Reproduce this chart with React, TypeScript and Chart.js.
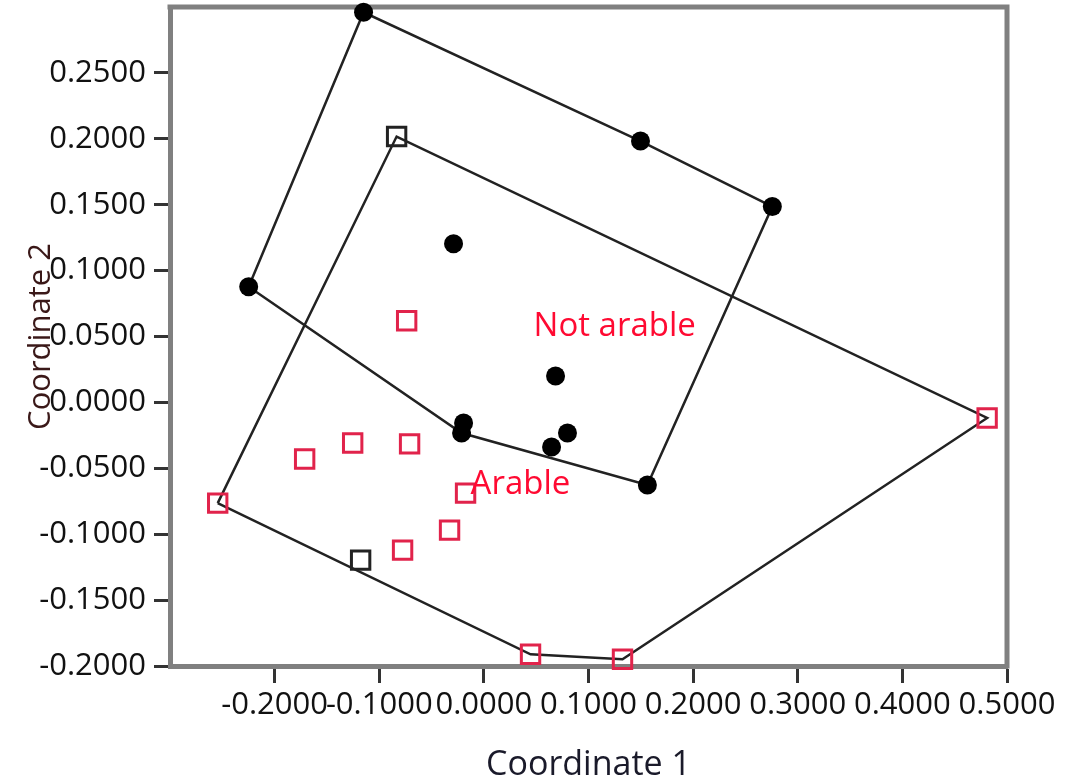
import React, { useEffect, useRef } from 'react';
import { Chart, registerables } from 'chart.js';

Chart.register(...registerables);

// ---- data ----
const notArableX = [-0.115, 0.1497, 0.2757, 0.1563, -0.0213, -0.0194, 0.0647, 0.0799, 0.0685, -0.029, -0.2248];
const notArableY = [0.296, 0.1983, 0.1486, -0.0627, -0.0232, -0.0156, -0.0338, -0.0232, 0.0201, 0.1204, 0.0878];

const arableX = [-0.0738, -0.1713, -0.1254, -0.071, -0.0175, -0.0328, -0.0777, -0.2544, 0.0446, 0.1325, 0.481];
const arableY = [0.0619, -0.0429, -0.0308, -0.0315, -0.0688, -0.0969, -0.1121, -0.0764, -0.1911, -0.1949, -0.0118];

const arableMarkedX = [-0.0834, -0.1178];
const arableMarkedY = [0.2017, -0.1197];

const xTicks = [-0.2, -0.1, 0.0, 0.1, 0.2, 0.3, 0.4, 0.5];
const yTicks = [-0.2, -0.15, -0.1, -0.05, 0.0, 0.05, 0.1, 0.15, 0.2, 0.25];

const xTitle = 'Coordinate 1';
const yTitle = 'Coordinate 2';
const groupNames = ['Not arable', 'Arable'];
const groupLabelAt = [
  [0.0475, 0.0505],
  [-0.0127, -0.0695],
];

type P = { x: number; y: number };

function toPoints(xs: number[], ys: number[]): P[] {
  return xs.map((x, i) => ({ x, y: ys[i] }));
}

function hull(pts: P[]): P[] {
  const p = [...pts].sort((a, b) => (a.x === b.x ? a.y - b.y : a.x - b.x));
  const cross = (o: P, a: P, b: P) => (a.x - o.x) * (b.y - o.y) - (a.y - o.y) * (b.x - o.x);
  const lower: P[] = [];
  for (const q of p) {
    while (lower.length >= 2 && cross(lower[lower.length - 2], lower[lower.length - 1], q) <= 0) lower.pop();
    lower.push(q);
  }
  const upper: P[] = [];
  for (let i = p.length - 1; i >= 0; i--) {
    const q = p[i];
    while (upper.length >= 2 && cross(upper[upper.length - 2], upper[upper.length - 1], q) <= 0) upper.pop();
    upper.push(q);
  }
  upper.pop();
  lower.pop();
  const h = lower.concat(upper);
  return [...h, h[0]];
}

const FONT = "'Open Sans', 'Noto Sans', sans-serif";
const fmt = (v: number) => (Math.abs(v) < 1e-9 ? 0 : v).toFixed(4);

const framePlugin = {
  id: 'frame',
  beforeDatasetsDraw(chart: any) {
    const { ctx, chartArea } = chart;
    ctx.save();
    ctx.strokeStyle = '#808080';
    ctx.lineWidth = 5;
    ctx.beginPath();
    ctx.moveTo(chartArea.left - 2.5, chartArea.top);
    ctx.lineTo(chartArea.right, chartArea.top);
    ctx.lineTo(chartArea.right, chartArea.bottom + 2.5);
    ctx.stroke();
    ctx.restore();
  },
  afterDatasetsDraw(chart: any) {
    const { ctx, chartArea, scales } = chart;
    ctx.save();
    ctx.fillStyle = 'rgb(255,10,50)';
    ctx.font = `33px ${FONT}`;
    ctx.textAlign = 'left';
    ctx.textBaseline = 'alphabetic';
    groupNames.forEach((name, i) => {
      const [gx, gy] = groupLabelAt[i];
      ctx.fillText(name, scales.x.getPixelForValue(gx), scales.y.getPixelForValue(gy));
    });
    // axis titles
    ctx.fillStyle = '#1a1a2a';
    ctx.font = `34px ${FONT}`;
    ctx.textAlign = 'center';
    ctx.fillText(xTitle, (chartArea.left + chartArea.right) / 2, 775);
    ctx.translate(50, (chartArea.top + chartArea.bottom) / 2);
    ctx.rotate(-Math.PI / 2);
    ctx.fillStyle = '#3a1818';
    ctx.font = `31px ${FONT}`;
    ctx.fillText(yTitle, 0, 0);
    ctx.restore();
  },
};

export default function App() {
  const ref = useRef<HTMLCanvasElement | null>(null);
  useEffect(() => {
    if (!ref.current) return;
    const notArable = toPoints(notArableX, notArableY);
    const arable = toPoints(arableX, arableY);
    const arableMarked = toPoints(arableMarkedX, arableMarkedY);
    const chart = new Chart(ref.current, {
      type: 'scatter',
      data: {
        datasets: [
          {
            label: 'Not arable',
            data: notArable,
            pointStyle: 'circle',
            pointRadius: 9.5,
            backgroundColor: '#000',
            borderColor: '#000',
            borderWidth: 0,
            clip: false,
            order: 1,
          },
          {
            label: 'Arable',
            data: arable,
            pointStyle: 'rect',
            pointRadius: 13,
            backgroundColor: 'rgba(0,0,0,0)',
            borderColor: 'rgb(225,35,75)',
            borderWidth: 3,
            clip: false,
            order: 1,
          },
          {
            label: 'Arable (marked)',
            data: arableMarked,
            pointStyle: 'rect',
            pointRadius: 13,
            backgroundColor: 'rgba(0,0,0,0)',
            borderColor: '#222',
            borderWidth: 3,
            clip: false,
            order: 1,
          },
          {
            label: 'Not arable hull',
            data: hull(notArable),
            showLine: true,
            pointRadius: 0,
            borderColor: '#222',
            borderWidth: 2.5,
            tension: 0,
            clip: false,
            order: 10,
          },
          {
            label: 'Arable hull',
            data: hull([...arable, ...arableMarked]),
            showLine: true,
            pointRadius: 0,
            borderColor: '#222',
            borderWidth: 2.5,
            tension: 0,
            clip: false,
            order: 10,
          },
        ],
      } as any,
      options: {
        animation: false,
        responsive: false,
        layout: { autoPadding: false, padding: { top: 7, right: 77, left: 0, bottom: 0 } },
        plugins: { legend: { display: false }, tooltip: { enabled: false } },
        scales: {
          x: {
            type: 'linear',
            min: -0.3,
            max: 0.5,
            afterBuildTicks: (s: any) => {
              s.ticks = xTicks.map((v) => ({ value: v }));
            },
            afterFit: (s: any) => {
              s.height = 114;
              s.paddingLeft = 0;
              s.paddingRight = 0;
            },
            ticks: {
              callback: (v: any) => fmt(Number(v)),
              font: { family: FONT, size: 31 },
              color: '#111',
              maxRotation: 0,
              minRotation: 0,
              autoSkip: false,
              padding: 4,
            },
            grid: { display: true, drawOnChartArea: false, drawTicks: true, tickLength: 17, tickColor: '#333', tickWidth: 3 },
            border: { display: true, color: '#808080', width: 5 },
          },
          y: {
            type: 'linear',
            min: -0.2,
            max: 0.3,
            afterBuildTicks: (s: any) => {
              s.ticks = yTicks.map((v) => ({ value: v }));
            },
            afterFit: (s: any) => {
              s.width = 170;
              s.paddingTop = 0;
              s.paddingBottom = 0;
            },
            ticks: {
              callback: (v: any) => fmt(Number(v)),
              font: { family: FONT, size: 31 },
              color: '#111',
              padding: 8,
            },
            grid: { display: true, drawOnChartArea: false, drawTicks: true, tickLength: 16, tickColor: '#333', tickWidth: 3 },
            border: { display: true, color: '#808080', width: 5 },
          },
        },
      } as any,
      plugins: [framePlugin],
    });
    return () => chart.destroy();
  }, []);
  return (
    <div style={{ position: 'fixed', left: 0, top: 0, width: 1084, height: 780, background: '#fff' }}>
      <canvas ref={ref} width={1084} height={780} style={{ display: 'block' }} />
    </div>
  );
}
